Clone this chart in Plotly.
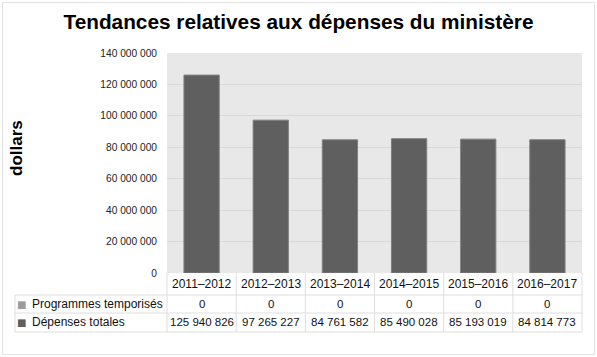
import plotly.graph_objects as go

years = ["2011–2012", "2012–2013", "2013–2014", "2014–2015", "2015–2016", "2016–2017"]
programmes_temporises = [0, 0, 0, 0, 0, 0]
depenses_totales = [125940826, 97265227, 84761582, 85490028, 85193019, 84814773]
series_names = ["Programmes temporisés", "Dépenses totales"]
y_ticks = [0, 20000000, 40000000, 60000000, 80000000, 100000000, 120000000, 140000000]

W, H = 597, 357
L, R, T, B = 167, 15, 53, 84
font = "Liberation Sans, Arial, sans-serif"
dark = "#5f5f5f"
light = "#9c9c9c"
linec = "#dedede"

def fmt(v):
    return f"{v:,}".replace(",", " ")

fig = go.Figure()
fig.add_trace(go.Bar(x=years, y=programmes_temporises, name=series_names[0],
                     marker=dict(color=light), showlegend=False))
fig.add_trace(go.Bar(x=years, y=depenses_totales, name=series_names[1],
                     marker=dict(color=dark, line=dict(color="#808080", width=1)),
                     showlegend=False))

def py(p):  # pixel y -> paper
    return 1 - (p - T) / (H - T - B)

def px(p):
    return (p - L) / (W - L - R)

annotations = []
rows = [(284, years, 12), (304, [fmt(v) for v in programmes_temporises], 11.5),
        (322, [fmt(v) for v in depenses_totales], 11.5)]
for ypix, labels, fs in rows:
    for yr, lab in zip(years, labels):
        annotations.append(dict(x=yr, xref="x", y=py(ypix), yref="paper", text=lab,
                                showarrow=False, font=dict(family=font, size=fs, color="#111"),
                                xanchor="center", yanchor="middle"))
for ypix, name, col in [(304, series_names[0], light), (322, series_names[1], dark)]:
    annotations.append(dict(x=px(15), xref="paper", y=py(ypix), yref="paper", text="■",
                            showarrow=False, font=dict(family="DejaVu Sans", size=10, color=col),
                            xanchor="left", yanchor="middle"))
    annotations.append(dict(x=px(30), xref="paper", y=py(ypix), yref="paper", text=name,
                            showarrow=False, font=dict(family=font, size=12, color="#111"),
                            xanchor="left", yanchor="middle"))
annotations.append(dict(x=px(16), xref="paper", y=py(148), yref="paper", text="<b>dollars</b>",
                        textangle=-90, showarrow=False, font=dict(family=font, size=17, color="#000"),
                        xanchor="center", yanchor="middle"))

shapes = []
def hline(y, x0, x1):
    shapes.append(dict(type="line", xref="paper", yref="paper", x0=px(x0), x1=px(x1),
                       y0=py(y), y1=py(y), line=dict(color=linec, width=1)))
def vline(x, y0, y1):
    shapes.append(dict(type="line", xref="paper", yref="paper", x0=px(x), x1=px(x),
                       y0=py(y0), y1=py(y1), line=dict(color=linec, width=1)))
for y in [295, 313, 332]:
    hline(y, 15, 582)
vline(15, 295, 332)
colw = (W - L - R) / len(years)
for i in range(len(years) + 1):
    vline(L + i * colw, 273, 332)
shapes.append(dict(type="rect", xref="paper", yref="paper", x0=px(2.5), x1=px(594.5),
                   y0=py(354.5), y1=py(2.5), line=dict(color="#e2e2e2", width=1)))

fig.update_layout(
    width=W, height=H,
    margin=dict(l=L, r=R, t=T, b=B),
    paper_bgcolor="white", plot_bgcolor="#e8e8e9",
    separators=", ",
    barmode="overlay", bargap=0.49,
    title=dict(text="<b>Tendances relatives aux dépenses du ministère</b>", x=0.5, xref="container",
               xanchor="center", y=1 - 22 / H, yanchor="middle", yref="container",
               font=dict(family=font, size=20.8, color="#000")),
    xaxis=dict(showticklabels=False, showgrid=False, zeroline=False, showline=False, ticks=""),
    yaxis=dict(range=[0, 140000000], tickvals=y_ticks, tickformat=",d",
               showgrid=True, gridcolor="#d8d8d8", gridwidth=1, zeroline=False,
               showline=False, ticks="", ticklabelstandoff=9,
               tickfont=dict(family=font, size=10.2, color="#222")),
    annotations=annotations, shapes=shapes,
    font=dict(family=font),
)
fig.write_html("out.html", config={"displayModeBar": False},
               post_script="document.body.style.margin='0';document.body.style.padding='0';document.body.style.overflow='hidden';")
